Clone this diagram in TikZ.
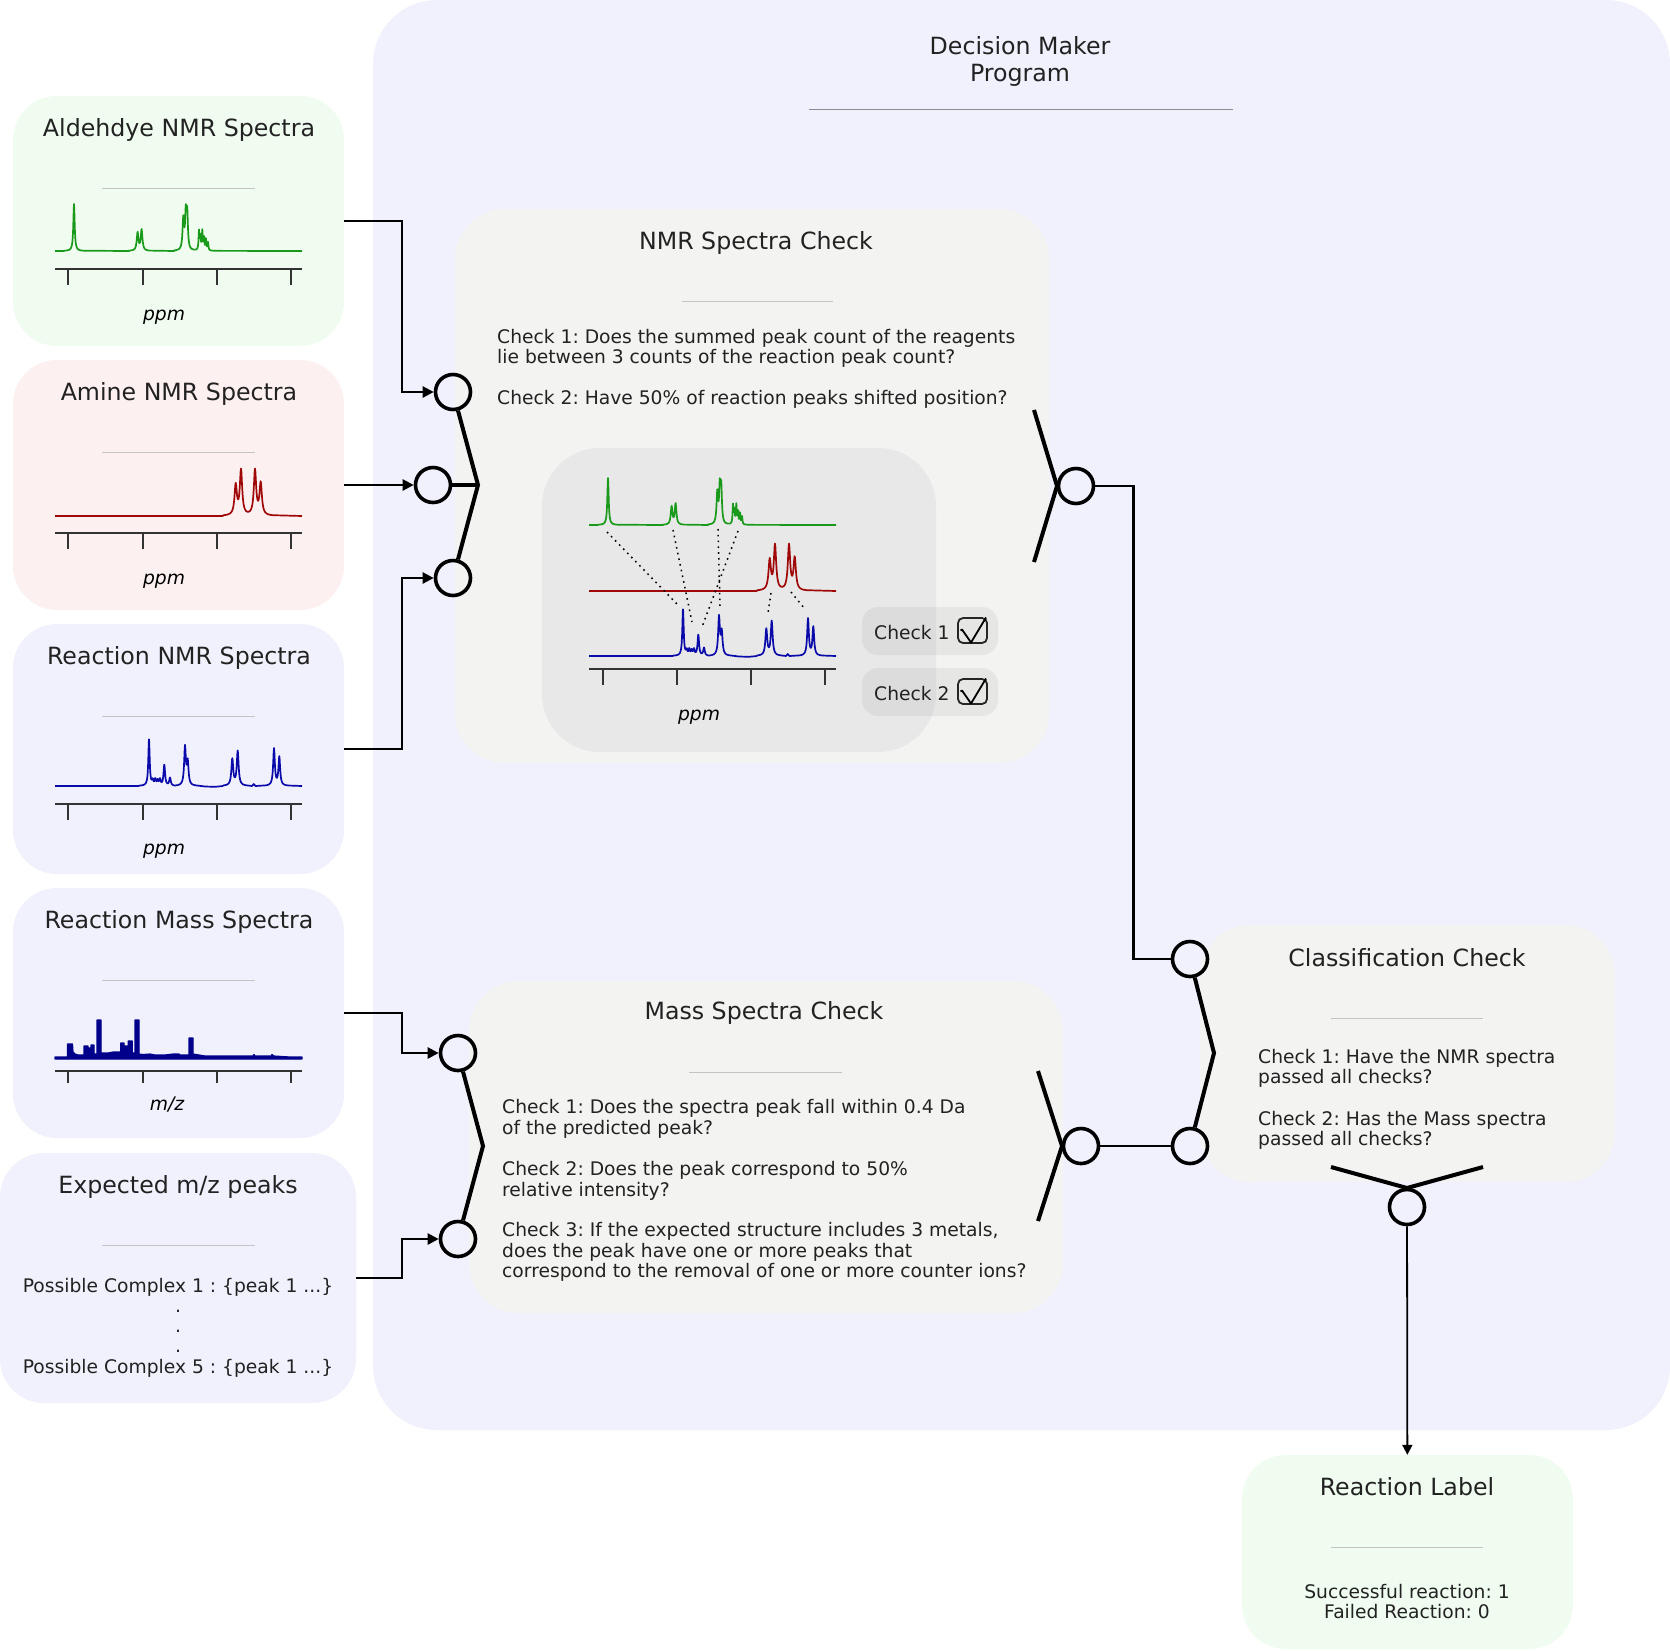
\documentclass[tikz,border=0pt]{standalone}
\usepackage{fontspec}
\setmainfont{DejaVu Sans}
\frenchspacing
\usetikzlibrary{arrows.meta,calc}
\definecolor{txt}{HTML}{222222}
\definecolor{lav}{HTML}{F1F1FD}
\definecolor{mint}{HTML}{F0FCF0}
\definecolor{rose}{HTML}{FDF0F0}
\definecolor{chk}{HTML}{F3F3F2}
\definecolor{innerg}{HTML}{E8E8E8}
\definecolor{rulec}{HTML}{C4C4C4}
\definecolor{specg}{HTML}{1A9A1A}
\definecolor{specr}{HTML}{A00808}
\definecolor{specb}{HTML}{0A0AAA}
\definecolor{specm}{HTML}{00008B}
\tikzset{
  box/.style={rectangle, inner sep=0pt, draw=none, rounded corners=44pt},
  title/.style={font=\fontsize{23.7}{28}\selectfont, text=txt, inner sep=0pt, anchor=base},
  body/.style={font=\fontsize{18.7}{20.4}\selectfont, text=txt, inner sep=0pt, anchor=base west},
  bodyc/.style={body, anchor=base},
  axlab/.style={font=\fontsize{18.7}{20.4}\selectfont\itshape, text=black, inner sep=0pt, anchor=base},
  port/.style={circle, draw=black, line width=3.6pt, minimum size=35pt, inner sep=0pt},
  wire/.style={draw=black, line width=2.4pt},
  feed/.style={wire, -{Triangle[length=11pt,width=11pt]}},
  thk/.style={draw=black, line width=4pt},
  rul/.style={draw=rulec, line width=1pt},
  axisl/.style={draw=black!80, line width=2pt},
  spec/.style={line width=1.7pt, line join=round},
  badge/.style={rectangle, rounded corners=16pt, fill=black, fill opacity=0.05, draw=none, inner sep=0pt, minimum width=136pt, minimum height=48pt},
}
\newcommand{\Lz}[3]{#2/(1+((\x-#1)/#3)*((\x-#1)/#3))}
\newcommand{\aldplot}{\draw[specg, spec] (0,0) -- (9,0)
  -- plot[domain=9:29, samples=67] (\x,{-(\Lz{19}{47}{0.8})})
  -- (74,0) -- plot[domain=74:95, samples=64] (\x,{-(\Lz{82.6}{18}{1}+\Lz{86.6}{21}{1})})
  -- (119,0) -- plot[domain=119:163, samples=147] (\x,{-(\Lz{128.3}{31}{0.9}+\Lz{130.8}{35}{0.8}+\Lz{132.2}{35}{0.8}+\Lz{144}{19}{0.5}+\Lz{145.4}{14}{0.5}+\Lz{147.3}{19}{0.5}+\Lz{149}{13}{0.5}+\Lz{151}{11}{0.5}+\Lz{153}{8}{0.5})})
  -- (247,0);}
\newcommand{\amiplot}{\draw[specr, spec] (0,0) -- (168,0)
  -- plot[domain=168:218, samples=126] (\x,{-(\Lz{180.7}{30}{1.4}+\Lz{186}{45}{1.4}+\Lz{200}{45}{1.4}+\Lz{205.7}{32}{1.4})})
  -- (247,0);}
\newcommand{\reaplot}{\draw[specb, spec] (0,0) -- (84,0)
  -- plot[domain=84:120, samples=121] (\x,{-(\Lz{94}{47}{0.8}+\Lz{97.7}{5}{0.8}+\Lz{100.3}{6}{0.8}+\Lz{102.7}{5}{0.8}+\Lz{105}{6}{0.8}+\Lz{109.3}{21}{0.9}+\Lz{115}{8}{0.9})})
  -- plot[domain=121:141, samples=61] (\x,{-(\Lz{130}{38.5}{1}+\Lz{132.7}{23}{1})})
  -- (150,0.5) -- (160,0.8) -- (168,0)
  -- plot[domain=168:192, samples=73] (\x,{-(\Lz{177.3}{26.5}{1.1}+\Lz{182.7}{34.5}{1.1})})
  -- (197,0) -- (198.7,-2) -- (200.5,0)
  -- plot[domain=210:234, samples=73] (\x,{-(\Lz{219}{37}{1}+\Lz{224.3}{28.7}{1})})
  -- (247,0);}
\newcommand{\axisticks}[1]{\draw[axisl] (0,#1) -- (247,#1);
  \foreach \t in {13,88,162,236} {\draw[axisl] (\t,#1) -- (\t,#1+16);}}
\newcommand{\tickbox}[1]{\draw[black!85, line width=1.8pt, rounded corners=5pt] (#1) rectangle ++(29,25);
  \draw[black, line width=1.8pt, line join=round] ($(#1)+(2.5,12.5)$) -- ++(1.5,-1) -- ++(9,13) -- ++(15,-25);}
\begin{document}
\begin{tikzpicture}[x=1pt,y=-1pt]
\useasboundingbox (0,0) rectangle (1670,1650);

% main program box
\node[box, fill=lav, rounded corners=64pt, minimum width=1297pt, minimum height=1430pt] (main) at (1021.5,715) {};
\node[title] (dm1) at (1020,54) {Decision Maker};
\node[title] (dm2) at (1020,81) {Program};
\draw[draw=black!45, line width=1pt] (809,109) -- (1233,109);

% input boxes
\node[box, fill=mint, minimum width=331pt, minimum height=250pt] (ald) at (178.5,221) {};
\node[box, fill=rose, minimum width=331pt, minimum height=250pt] (ami) at (178.5,485) {};
\node[box, fill=lav, minimum width=331pt, minimum height=250pt] (rea) at (178.5,749) {};
\node[box, fill=lav, minimum width=331pt, minimum height=250pt] (ms) at (178.5,1013) {};
\node[box, fill=lav, minimum width=356pt, minimum height=250pt] (expk) at (178,1278) {};

\node[title] (t1) at (179,136) {Aldehdye NMR Spectra};
\node[title] (t2) at (179,400) {Amine NMR Spectra};
\node[title] (t3) at (179,664) {Reaction NMR Spectra};
\node[title] (t4) at (179,928) {Reaction Mass Spectra};
\node[title] (t5) at (178,1193) {Expected m/z peaks};
\foreach \yy in {188,452,716,980,1245} {\draw[rul] (102,\yy) -- (255,\yy);}

\begin{scope}[shift={(55,251)}]
\aldplot
\axisticks{18}
\end{scope}
\node[axlab] (p1) at (164,320) {ppm};
\begin{scope}[shift={(55,516)}]
\amiplot
\axisticks{17}
\end{scope}
\node[axlab] (p2) at (164,584) {ppm};
\begin{scope}[shift={(55,786)}]
\reaplot
\axisticks{18}
\end{scope}
\node[axlab] (p3) at (164,854) {ppm};
\begin{scope}[shift={(55,1058)}]
\filldraw[specm, line width=1.2pt, line join=round] (0,-1) -- (12.5,-1) -- (12.5,-14) -- (17.5,-14) -- (18,-6) -- (20,-4) -- (23,-3) -- (29,-3) -- (29,-12) -- (33,-12) -- (33,-10) -- (36,-10) -- (36,-13) -- (39,-13) -- (39,-4) -- (42,-4) -- (42,-38) -- (46,-38) -- (46,-5) -- (53,-5) -- (58,-6) -- (65.7,-6) -- (65.7,-15) -- (69,-15) -- (69,-12) -- (73.3,-12) -- (73.3,-17) -- (77.3,-17) -- (77.3,-5) -- (80,-5) -- (80,-38) -- (84,-38) -- (84,-4) -- (88,-3.5) -- (95,-4) -- (100,-3) -- (110,-3) -- (118,-4) -- (124,-4) -- (125,-3) -- (134,-3) -- (134,-20) -- (138,-20) -- (138,-4) -- (144,-3) -- (150,-2) -- (198,-2) -- (199,-3.5) -- (200,-2) -- (216,-2) -- (217,-3.5) -- (219,-2) -- (235,-1) -- (247,-1) -- (247,1) -- (0,1) -- cycle;
\draw[axisl] (0,13) -- (247,13);
\foreach \t in {13,88,162,236} {\draw[axisl] (\t,13) -- (\t,25);}
\end{scope}
\node[axlab] (p4) at (167,1110) {m/z};

\node[bodyc] (e1) at (178,1292) {Possible Complex 1 : \{peak 1 ...\}};
\node[bodyc] (e2) at (178,1312) {.};
\node[bodyc] (e3) at (178,1332) {.};
\node[bodyc] (e4) at (178,1352) {.};
\node[bodyc] (e5) at (178,1373) {Possible Complex 5 : \{peak 1 ...\}};

% NMR check box
\node[box, fill=chk, rounded corners=50pt, minimum width=594pt, minimum height=554pt] (nmrc) at (752,486) {};
\node[title] (tn) at (756,249) {NMR Spectra Check};
\draw[rul] (682,301) -- (833,301);
\node[body] (n1) at (497,343) {Check 1: Does the summed peak count of the reagents};
\node[body] (n2) at (497,363) {lie between 3 counts of the reaction peak count?};
\node[body] (n3) at (497,404) {Check 2: Have 50\% of reaction peaks shifted position?};
\node[box, fill=innerg, rounded corners=58pt, minimum width=394pt, minimum height=304pt] (inner) at (739,600) {};
\begin{scope}[shift={(589,525)}]\aldplot\end{scope}
\begin{scope}[shift={(589,591)}]\amiplot\end{scope}
\begin{scope}[shift={(589,656)}]\reaplot
\draw[axisl] (0,13) -- (247,13);
\foreach \t in {14,88,162,236} {\draw[axisl] (\t,13) -- (\t,29);}
\end{scope}
\node[axlab] (p5) at (699,720) {ppm};
\begin{scope}[black, line width=1.5pt, dash pattern=on 1.6pt off 4.2pt]
\draw (607,532) -- (678,605);
\draw (673,530) -- (692,622);
\draw (718,529) -- (720,606);
\draw (738,531) -- (702,627);
\draw (771,593) -- (768,613);
\draw (791,592) -- (804,608);
\end{scope}
\node[badge] (b1) at (930,631) {};
\node[badge] (b2) at (930,692) {};
\node[body] (bt1) at (874,639) {Check 1};
\node[body] (bt2) at (874,700) {Check 2};
\tickbox{958,618}
\tickbox{958,679}

% mass check box
\node[box, fill=chk, rounded corners=50pt, minimum width=594pt, minimum height=332pt] (massc) at (766,1147) {};
\node[title] (tm) at (764,1019) {Mass Spectra Check};
\draw[rul] (689,1072) -- (842,1072);
\node[body] (m1) at (502,1113) {Check 1: Does the spectra peak fall within 0.4 Da};
\node[body] (m2) at (502,1134) {of the predicted peak?};
\node[body] (m3) at (502,1175) {Check 2: Does the peak correspond to 50\%};
\node[body] (m4) at (502,1196) {relative intensity?};
\node[body] (m5) at (502,1236) {Check 3: If the expected structure includes 3 metals,};
\node[body] (m6) at (502,1257) {does the peak have one or more peaks that};
\node[body] (m7) at (502,1277) {correspond to the removal of one or more counter ions?};

% classification box
\node[box, fill=chk, rounded corners=50pt, minimum width=415pt, minimum height=257pt] (cls) at (1407.5,1053.5) {};
\node[title] (tc) at (1407,966) {Classification Check};
\draw[rul] (1331,1018) -- (1483,1018);
\node[body] (k1t) at (1258,1063) {Check 1: Have the NMR spectra};
\node[body] (k2t) at (1258,1083) {passed all checks?};
\node[body] (k3t) at (1258,1125) {Check 2: Has the Mass spectra};
\node[body] (k4t) at (1258,1145) {passed all checks?};

% reaction label box
\node[box, fill=mint, minimum width=331pt, minimum height=194pt] (lab) at (1407.5,1552) {};
\node[title] (tl) at (1407,1495) {Reaction Label};
\draw[rul] (1331,1547) -- (1483,1547);
\node[bodyc] (l1) at (1407,1598) {Successful reaction: 1};
\node[bodyc] (l2) at (1407,1618) {Failed Reaction: 0};

% ports
\node[port] (c1) at (453,392) {};
\node[port] (c2) at (433,485) {};
\node[port] (c3) at (453,578) {};
\coordinate (j1) at (478,485);
\node[port] (cn) at (1076,486) {};
\coordinate (fn1) at (1034,410);
\coordinate (jn) at (1057,486);
\coordinate (fn2) at (1034,562);
\node[port] (cm1) at (458,1053) {};
\node[port] (cm2) at (458,1239) {};
\coordinate (jm1) at (483,1146);
\node[port] (cm) at (1081,1146) {};
\coordinate (fm1) at (1038,1071);
\coordinate (jm) at (1062,1146);
\coordinate (fm2) at (1038,1221);
\node[port] (k1) at (1190,959) {};
\node[port] (k2) at (1190,1146) {};
\coordinate (jk) at (1214,1053);
\node[port] (kb) at (1407,1207) {};
\coordinate (fb1) at (1331,1167);
\coordinate (jb) at (1407,1188);
\coordinate (fb2) at (1483,1167);

% connectors
\draw[feed] (ald.east) -- ++(58,0) |- (c1);
\draw[feed] (ami.east) -- (c2);
\draw[feed] (rea.east) -- ++(58,0) |- (c3);
\draw[feed] (ms.east) -- ++(58,0) |- (cm1);
\draw[feed] (expk.east) -- ++(46,0) |- (cm2);
\draw[thk] (c1) -- (j1) -- (c3);
\draw[thk] (c2) -- (j1);
\draw[thk] (fn1) -- (jn) -- (fn2);
\draw[thk] (cm1) -- (jm1) -- (cm2);
\draw[thk] (fm1) -- (jm) -- (fm2);
\draw[thk] (k1) -- (jk) -- (k2);
\draw[thk] (fb1) -- (jb) -- (fb2);
\draw[wire] (cn.east) -- ++(38,0) |- (k1);
\draw[wire] (cm) -- (k2);
\draw[wire, line width=1.8pt, -{Triangle[length=10pt,width=10pt]}] (kb) -- (lab);
\end{tikzpicture}
\end{document}
